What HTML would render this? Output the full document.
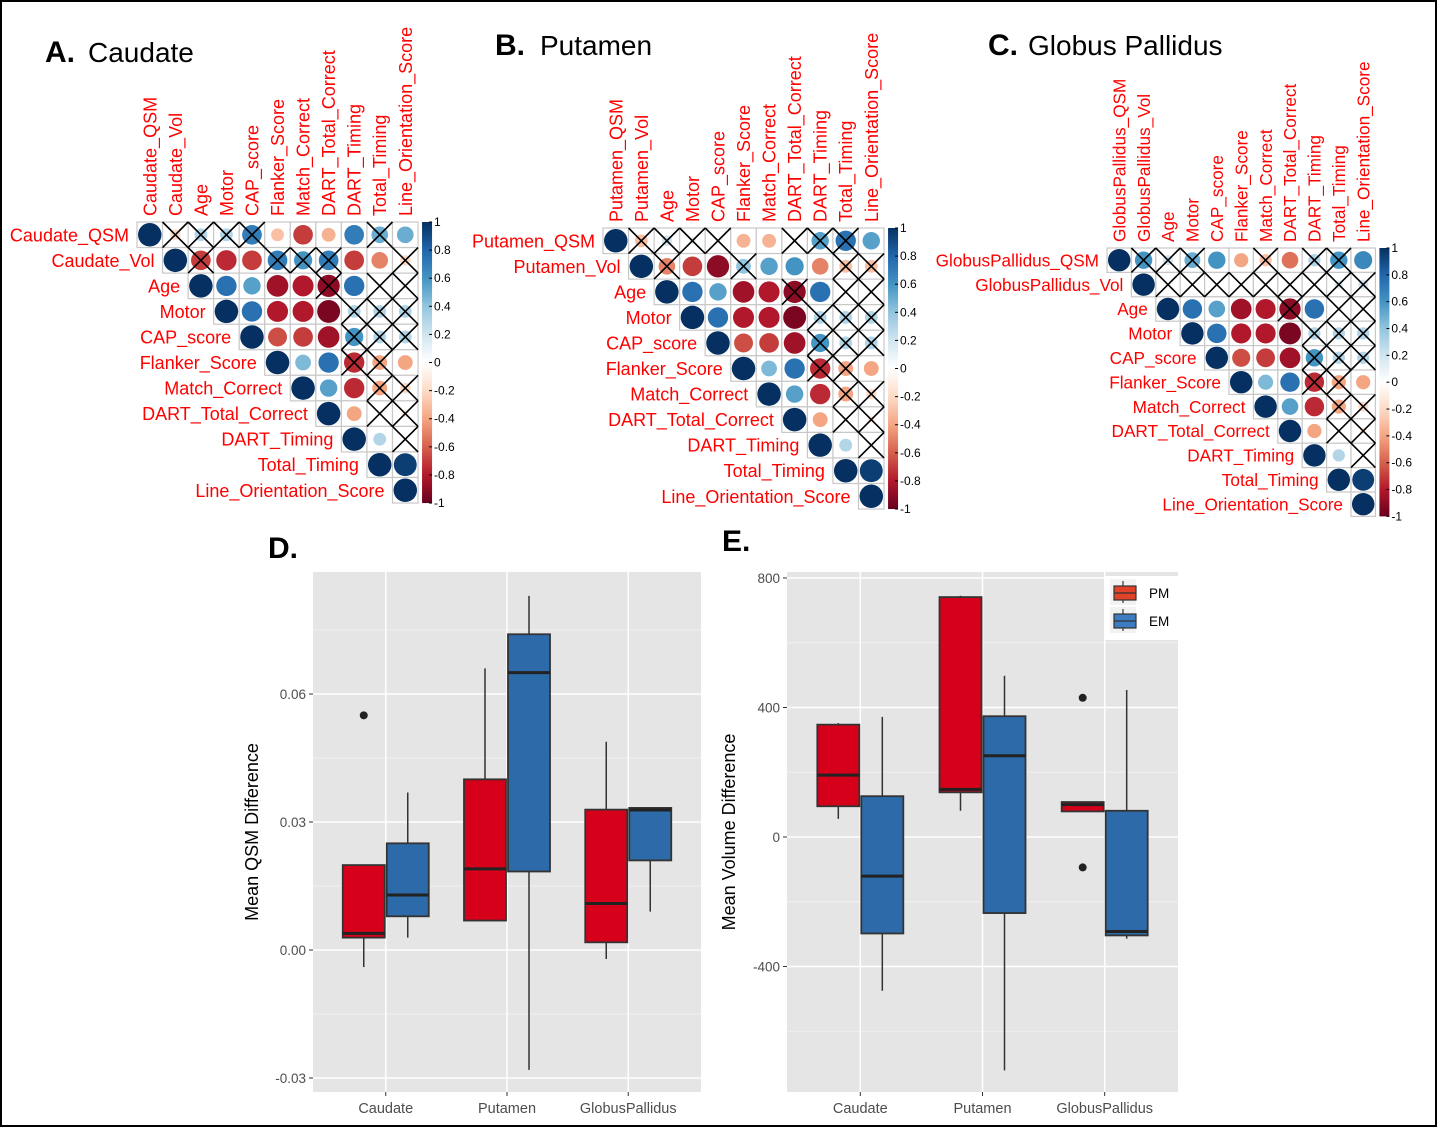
<!DOCTYPE html>
<html><head><meta charset="utf-8"><style>
html,body{margin:0;padding:0;background:#fff}
svg{display:block;font-family:"Liberation Sans",Arial,sans-serif}
</style></head><body>
<svg id="fig" width="1437" height="1127" viewBox="0 0 1437 1127" xmlns="http://www.w3.org/2000/svg">
<rect x="1" y="1" width="1435" height="1125" fill="#fff" stroke="#000" stroke-width="2"/>
<g><text x="45" y="62" font-size="30" font-weight="bold">A.</text><text x="88" y="62" font-size="28">Caudate</text></g>
<g><text x="495" y="55" font-size="30" font-weight="bold">B.</text><text x="540" y="55" font-size="28">Putamen</text></g>
<g><text x="988" y="55" font-size="30" font-weight="bold">C.</text><text x="1028" y="55" font-size="28">Globus Pallidus</text></g>
<text x="268" y="558" font-size="30" font-weight="bold">D.</text>
<text x="722" y="551" font-size="30" font-weight="bold">E.</text>
<g id="corr"></g>
<g id="boxes"></g>
</svg>
<script>
// ---------- correlation data ----------
const cogNames = ["Age","Motor","CAP_score","Flanker_Score","Match_Correct","DART_Total_Correct","DART_Timing","Total_Timing","Line_Orientation_Score"];
const cogValues = [
 [1,0.75,0.55,-0.85,-0.8,-0.9,0.75,0.05,0.05],
 [1,0.75,-0.8,-0.8,-0.95,0.3,0.3,0.3],
 [1,-0.65,-0.7,-0.85,0.6,0.3,0.3],
 [1,0.45,0.75,-0.75,-0.4,-0.4],
 [1,0.55,-0.75,-0.4,-0.2],
 [1,-0.4,0.05,-0.1],
 [1,0.3,0.05],
 [1,0.95],
 [1]
];
const cogCross = [
 [0,0,0,0,0,1,0,1,1],
 [0,0,0,0,0,1,1,1],
 [0,0,0,0,1,1,1],
 [0,0,0,1,1,0],
 [0,0,0,1,1],
 [0,0,1,1],
 [0,0,1],
 [0,0],
 [0]
];
const caudateTop = [[1,-0.2,0.3,0.3,0.7,-0.3,-0.7,-0.35,0.7,0.5,0.5],[1,-0.7,-0.75,-0.7,0.7,0.6,0.7,-0.7,-0.5,-0.2]];
const caudateCross = [[0,1,1,1,1,0,0,0,0,1,0],[0,1,0,0,1,1,1,0,0,1]];
const putamenTop = [[1,-0.3,0.2,0.1,0.05,-0.35,-0.35,0.05,0.55,0.75,0.55],[1,-0.5,-0.7,-0.9,0.4,0.55,0.6,-0.5,-0.3,-0.3]];
const putamenCross = [[0,1,1,1,1,0,0,1,1,1,0],[0,1,0,0,1,0,0,0,1,1]];
const gpTop = [[1,0.6,0.2,0.5,0.6,-0.4,-0.3,-0.55,0.3,0.6,0.65],[1,0.02,0.02,0.02,0.02,-0.05,0.02,0.02,0.15,0.2]];
const gpCross = [[0,1,1,1,0,0,1,0,1,1,0],[0,1,1,1,1,1,1,1,1,1]];
const barTicks = ["1","0.8","0.6","0.4","0.2","0","-0.2","-0.4","-0.6","-0.8","-1"];

const NS="http://www.w3.org/2000/svg";
function mk(tag,attrs,parent){const e=document.createElementNS(NS,tag);for(const k in attrs)e.setAttribute(k,attrs[k]);parent.appendChild(e);return e;}
const stops=[[-1,[103,0,31]],[-0.8,[178,24,43]],[-0.6,[214,96,77]],[-0.4,[244,165,130]],[-0.2,[253,219,199]],[0,[255,255,255]],[0.2,[209,229,240]],[0.4,[146,197,222]],[0.6,[67,147,195]],[0.8,[33,102,172]],[1,[5,48,97]]];
function col(v){for(let i=0;i<stops.length-1;i++){const a=stops[i],b=stops[i+1];if(v<=b[0]){const t=(v-a[0])/(b[0]-a[0]);const c=a[1].map((x,k)=>Math.round(x+(b[1][k]-x)*t));return `rgb(${c})`;}}return "rgb(5,48,97)";}

function drawCorr(cfg){
  const g=mk("g",{},document.getElementById("corr"));
  
  
  const names=[cfg.region+"_QSM",cfg.region+"_Vol"].concat(cogNames);
  const vals=cfg.top.concat(cogValues), cross=cfg.cross.concat(cogCross);
  const n=11,c=cfg.cell,x0=cfg.x,y0=cfg.y;
  names.forEach((nm,j)=>{
    const t=mk("text",{x:0,y:0,"font-size":cfg.fs,fill:"#f00",transform:`translate(${x0+j*c+c/2+cfg.fs*0.36},${y0-6}) rotate(-90)`},g);
    t.textContent=nm;
    
    
    const r=mk("text",{x:x0+j*c-8,y:y0+j*c+c/2+cfg.fs*0.36,"font-size":cfg.fs,fill:"#f00","text-anchor":"end"},g);
    r.textContent=nm;
    
    
  });
  for(let i=0;i<n;i++){for(let k=0;k<vals[i].length;k++){
    const j=i+k,cx=x0+j*c,cy=y0+i*c;
    const cell=mk("rect",{x:cx,y:cy,width:c,height:c,fill:"#fff",stroke:"#c8c8c8","stroke-width":1.2},g);
    
    
  }}
  for(let i=0;i<n;i++){for(let k=0;k<vals[i].length;k++){
    const j=i+k,v=vals[i][k],cx=x0+j*c,cy=y0+i*c;
    const ci=mk("circle",{cx:cx+c/2,cy:cy+c/2,r:Math.sqrt(Math.abs(v))*c*0.46,fill:col(v)},g);
    
    
  }}
  for(let i=0;i<n;i++){for(let k=0;k<vals[i].length;k++){
    if(!cross[i][k])continue;
    const j=i+k,cx=x0+j*c,cy=y0+i*c;
    const p=mk("path",{d:`M${cx},${cy}L${cx+c},${cy+c}M${cx+c},${cy}L${cx},${cy+c}`,stroke:"#000","stroke-width":1.6,fill:"none"},g);
    
    
  }}
  const bx=x0+n*c+4,bh=n*c,bw=10;
  const gid="grad"+cfg.name;
  const defs=mk("defs",{},g);const lg=mk("linearGradient",{id:gid,x1:0,y1:0,x2:0,y2:1},defs);
  for(let s=stops.length-1;s>=0;s--)mk("stop",{offset:((1-stops[s][0])/2),"stop-color":col(stops[s][0])},lg);
  const bar=mk("rect",{x:bx,y:y0,width:bw,height:bh,fill:`url(#${gid})`},g);
  
  
  barTicks.forEach((lab,i)=>{
    const ty=y0+i*bh/10;
    mk("line",{x1:bx+bw-3,x2:bx+bw,y1:ty,y2:ty,stroke:"#000","stroke-width":1},g);
    const t=mk("text",{x:bx+bw+2,y:ty+4,"font-size":12,fill:"#000"},g);
    t.textContent=lab;
    
    
  });
}
drawCorr({name:"caudate-corrplot",region:"Caudate",top:caudateTop,cross:caudateCross,x:137,y:222,cell:25.55,fs:18});
drawCorr({name:"putamen-corrplot",region:"Putamen",top:putamenTop,cross:putamenCross,x:603,y:228,cell:25.55,fs:18});
drawCorr({name:"globus-pallidus-corrplot",region:"GlobusPallidus",top:gpTop,cross:gpCross,x:1107,y:248,cell:24.4,fs:17.2});

// ---------- box plot data ----------
const categories=["Caudate","Putamen","GlobusPallidus"];
// [low, q1, median, q3, high]
const qsmPM=[[-0.004,0.0029,0.0039,0.0199,0.0199],[0.0069,0.0069,0.019,0.040,0.066],[-0.0021,0.0018,0.0109,0.0329,0.0488]];
const qsmEM=[[0.0029,0.0079,0.0129,0.025,0.0369],[-0.0281,0.0184,0.065,0.074,0.083],[0.009,0.021,0.0328,0.0333,0.0333]];
const qsmOutPM=[[0.055],[],[]];
const qsmOutEM=[[],[],[]];
const qsmTicks=[-0.03,0,0.03,0.06];
const qsmTickLabels=["-0.03","0.00","0.03","0.06"];
const volPM=[[56,95,191,347,352],[81,138,147,741,745],[79,79,100,108,108]];
const volEM=[[-475,-298,-121,126,371],[-721,-235,251,373,498],[-314,-304,-292,81,454]];
const volOutPM=[[],[],[430,-94]];
const volOutEM=[[],[],[]];
const volTicks=[-400,0,400,800];
const volTickLabels=["-400","0","400","800"];

function drawBox(cfg){
  const g=mk("g",{},document.getElementById("boxes"));
  
  
  const {x0,x1,y0,y1}=cfg;
  const ys=v=>cfg.py0+(v-cfg.v0)*(cfg.py1-cfg.py0)/(cfg.v1-cfg.v0);
  const step=(x1-x0)/(categories.length+0.2);
  const xs=i=>x0+(i+0.6)*step;
  const bg=mk("rect",{x:x0,y:y0,width:x1-x0,height:y1-y0,fill:"#e5e5e5"},g);
  
  
  const m=(cfg.ticks[1]-cfg.ticks[0])/2;
  cfg.ticks.forEach(t=>{[t-m,t+m].forEach(mv=>{const yy=ys(mv);if(yy>y0&&yy<y1)mk("line",{x1:x0,x2:x1,y1:yy,y2:yy,stroke:"#f2f2f2","stroke-width":0.8},g);});});
  cfg.ticks.forEach((t,i)=>{
    const yy=ys(t);
    const gl=mk("line",{x1:x0,x2:x1,y1:yy,y2:yy,stroke:"#fff","stroke-width":1.5},g);
    
    
    mk("line",{x1:x0-4,x2:x0,y1:yy,y2:yy,stroke:"#333","stroke-width":1},g);
    const tl=mk("text",{x:x0-7,y:yy+5,"font-size":13.5,fill:"#4d4d4d","text-anchor":"end"},g);
    tl.textContent=cfg.tickLabels[i];
    
    
  });
  categories.forEach((c,i)=>{
    const xx=xs(i);
    mk("line",{x1:xx,x2:xx,y1:y0,y2:y1,stroke:"#fff","stroke-width":1.5},g);
    mk("line",{x1:xx,x2:xx,y1:y1,y2:y1+4,stroke:"#333","stroke-width":1},g);
    const tl=mk("text",{x:xx,y:y1+21,"font-size":14.5,fill:"#4d4d4d","text-anchor":"middle"},g);
    tl.textContent=c;
    
    
  });
  const bw=42,off=22;
  [[cfg.pm,cfg.outPM,"#d7001a",-off,"pm"],[cfg.em,cfg.outEM,"#2c6aaa",off,"em"]].forEach(([data,outs,fill,dx,nm])=>{
    data.forEach((d,i)=>{
      const cx=xs(i)+dx;
      const w=mk("line",{x1:cx,x2:cx,y1:ys(d[0]),y2:ys(d[4]),stroke:"#333","stroke-width":1.5},g);
      
      
      const b=mk("rect",{x:cx-bw/2,y:ys(d[3]),width:bw,height:Math.max(ys(d[1])-ys(d[3]),0.5),fill:fill,stroke:"#333","stroke-width":1.8},g);
      
      
      const md=mk("line",{x1:cx-bw/2,x2:cx+bw/2,y1:ys(d[2]),y2:ys(d[2]),stroke:"#222","stroke-width":3},g);
      
      
      outs[i].forEach(o=>{
        const p=mk("circle",{cx:cx,cy:ys(o),r:4,fill:"#222"},g);
        
        
      });
    });
  });
  const yt=mk("text",{x:0,y:0,"font-size":18,fill:"#000","text-anchor":"middle",transform:`translate(${cfg.titleX},${(y0+y1)/2}) rotate(-90)`},g);
  yt.textContent=cfg.title;
  
  
  return g;
}
drawBox({name:"qsm-boxplot",x0:313,x1:701,y0:572,y1:1092,pm:qsmPM,em:qsmEM,outPM:qsmOutPM,outEM:qsmOutEM,ticks:qsmTicks,tickLabels:qsmTickLabels,v0:0,v1:0.06,py0:950,py1:694,title:"Mean QSM Difference",titleX:258});
const ge=drawBox({name:"volume-boxplot",x0:787,x1:1178,y0:572,y1:1092,pm:volPM,em:volEM,outPM:volOutPM,outEM:volOutEM,ticks:volTicks,tickLabels:volTickLabels,v0:0,v1:800,py0:837,py1:578,title:"Mean Volume Difference",titleX:735});
const lg=mk("g",{},ge);


mk("rect",{x:1105,y:576,width:73,height:64,fill:"#fff"},lg);
[["PM","#e0422a",593],["EM","#3d7cc0",621]].forEach(([lab,f,cy])=>{
  const e=mk("g",{},lg);
  
  
  mk("rect",{x:1110,y:cy-14,width:26,height:26,fill:"#f2f2f2"},e);
  mk("line",{x1:1123,x2:1123,y1:cy-12,y2:cy+10,stroke:"#333","stroke-width":1.2},e);
  mk("rect",{x:1114,y:cy-7,width:22,height:14,fill:f,stroke:"#333","stroke-width":1.2},e);
  mk("line",{x1:1114,x2:1136,y1:cy,y2:cy,stroke:"#333","stroke-width":1.2},e);
  const t=mk("text",{x:1149,y:cy+5,"font-size":13.5,fill:"#000"},e);t.textContent=lab;
});
</script>
</body></html>
